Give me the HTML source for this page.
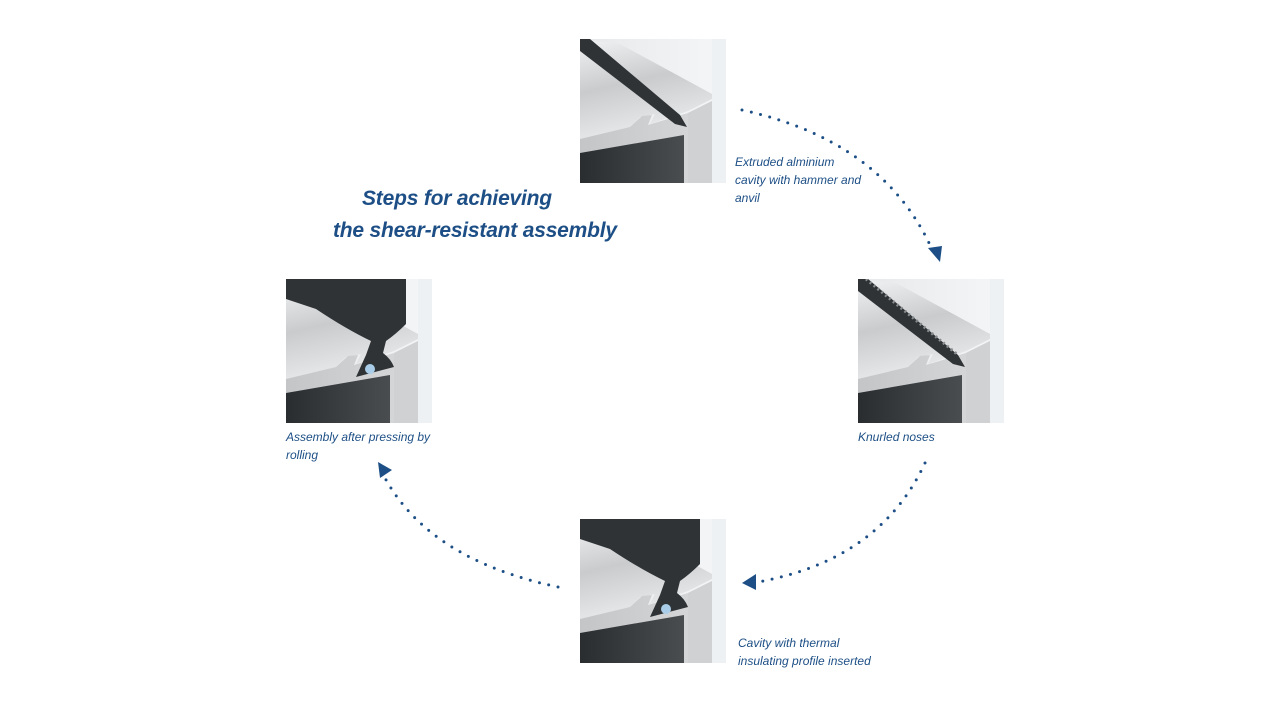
<!DOCTYPE html>
<html><head><meta charset="utf-8"><style>
html,body{margin:0;padding:0;background:#fff;}
body{width:1280px;height:720px;position:relative;overflow:hidden;font-family:"Liberation Sans",sans-serif;}
.t{position:absolute;color:#1d4f86;font-style:italic;white-space:nowrap;}
.title{font-size:21px;font-weight:bold;letter-spacing:-0.2px;}
.cap{font-size:12px;line-height:18px;}
svg.img{position:absolute;width:146px;height:144px;}
</style></head><body>
<svg width="0" height="0" style="position:absolute">
<defs>
<linearGradient id="bg" x1="0" y1="0" x2="1" y2="0"><stop offset="0" stop-color="#e6e8ea"/><stop offset="1" stop-color="#f4f6f8"/></linearGradient>
<linearGradient id="cyl" x1="0" y1="0" x2="0.3" y2="1"><stop offset="0" stop-color="#f2f3f4"/><stop offset="0.5" stop-color="#c9cbcd"/><stop offset="1" stop-color="#e9eaeb"/></linearGradient>
<linearGradient id="face" x1="0" y1="0" x2="1" y2="0"><stop offset="0" stop-color="#c3c5c7"/><stop offset="1" stop-color="#d8d9da"/></linearGradient>
<linearGradient id="dk" x1="0" y1="0" x2="1" y2="0"><stop offset="0" stop-color="#2a2d30"/><stop offset="1" stop-color="#4a4d50"/></linearGradient>
<g id="base">
<rect width="146" height="144" fill="url(#bg)"/>
<polygon points="0,20 0,100 50,88 60,78 75,75 70,85 108,72 132,60 132,55 40,5 0,0" fill="url(#cyl)"/>
<polygon points="0,100 50,88 62,77 72,76 68,86 108,74 132,62 132,144 0,144" fill="url(#face)"/>
<polygon points="108,74 132,62 132,144 108,144" fill="#cfd1d3"/>
<polygon points="0,114 104,96 104,144 0,144" fill="url(#dk)"/>
<rect x="132" y="0" width="14" height="144" fill="#eef1f4"/>
</g>
</defs>
</svg>

<!-- top -->
<svg class="img" style="left:580px;top:39px" viewBox="0 0 146 144"><use href="#base"/>
<polygon points="0,0 0,12 95,85 107,88 100,76 10,0" fill="#2f3336"/></svg>
<!-- right -->
<svg class="img" style="left:858px;top:279px" viewBox="0 0 146 144"><use href="#base"/>
<polygon points="0,0 0,12 95,85 107,88 100,76 10,0" fill="#2f3336"/>
<path d="M8,0 L100,76" stroke="#8a8d90" stroke-width="3" stroke-dasharray="2 3"/></svg>
<!-- bottom -->
<svg class="img" style="left:580px;top:519px" viewBox="0 0 146 144"><use href="#base"/>
<path d="M0,0 L120,0 L120,45 Q110,55 100,62 L97,74 Q105,80 108,88 L70,98 L80,76 L85,62 Q60,50 30,30 L0,20 Z" fill="#2f3336"/>
<circle cx="86" cy="90" r="5" fill="#a9cde8"/></svg>
<!-- left -->
<svg class="img" style="left:286px;top:279px" viewBox="0 0 146 144"><use href="#base"/>
<path d="M0,0 L120,0 L120,45 Q110,55 100,62 L97,74 Q105,80 108,88 L70,98 L80,76 L85,62 Q60,50 30,30 L0,20 Z" fill="#2f3336"/>
<circle cx="84" cy="90" r="5" fill="#a9cde8"/></svg>

<svg style="position:absolute;left:0;top:0" width="1280" height="720">
<g fill="none" stroke="#1d4f86" stroke-width="3" stroke-linecap="round" stroke-dasharray="0 9.5">
<path d="M742,110 Q880,140 930,245"/>
<path d="M925,463 Q880,560 758,582"/>
<path d="M558,587 Q430,560 385,478"/>
</g>
<g fill="#1d4f86">
<polygon points="928,248 942,246 940,262"/>
<polygon points="742,583 756,574 756,590"/>
<polygon points="378,462 392,470 380,478"/>
</g>
</svg>

<div class="t title" style="left:362px;top:187px">Steps for achieving</div>
<div class="t title" style="left:333px;top:219px">the shear-resistant assembly</div>
<div class="t cap" style="left:735px;top:153px">Extruded alminium<br>cavity with hammer and<br>anvil</div>
<div class="t cap" style="left:858px;top:428px">Knurled noses</div>
<div class="t cap" style="left:738px;top:634px">Cavity with thermal<br>insulating profile inserted</div>
<div class="t cap" style="left:286px;top:428px">Assembly after pressing by<br>rolling</div>
</body></html>
